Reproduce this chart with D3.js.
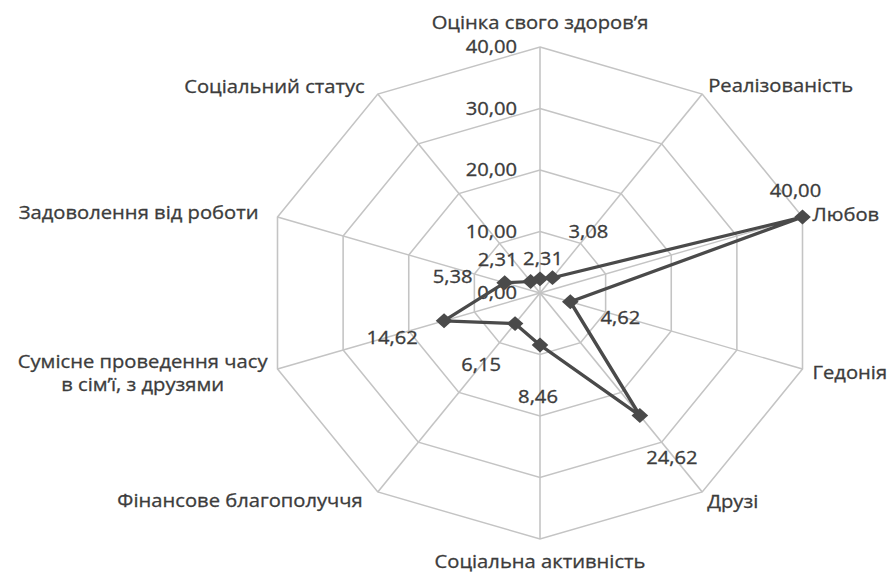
<!DOCTYPE html>
<html>
<head>
<meta charset="utf-8">
<script src="https://cdn.jsdelivr.net/npm/d3@7"></script>
<style>
	body { margin: 0; background: #ffffff; }
	svg { display: block; }
	text { font-family: "Open Sans", sans-serif; fill: #3c3c3c; stroke: #3c3c3c; stroke-width: 0.3px; }
</style>
</head>
<body>
<div id="chart"></div>
<script>
// categories, clockwise from the top
var categories = [
	["Оцінка свого здоров’я"],
	["Реалізованість"],
	["Любов"],
	["Гедонія"],
	["Друзі"],
	["Соціальна активність"],
	["Фінансове благополуччя"],
	["Сумісне проведення часу", "в сім’ї, з друзями"],
	["Задоволення від роботи"],
	["Соціальний статус"]
];

var values = [2.31, 3.08, 40.00, 4.62, 24.62, 8.46, 6.15, 14.62, 5.38, 2.31];

var ticks = [0, 10, 20, 30, 40];

// label placement relative to the marker (screen px)
var valueLabelOffsets = [
	[3, -20], [36, -46], [-7, -26], [50, 16], [32, 42],
	[-2, 52], [-34, 41], [-52, 17], [-52, -6], [-33, -22]
];

// category label placement relative to the outer vertex: [dx, dy, anchor]
var catLabelOffsets = [
	[0, -24, "middle"], [6, -8, "start"], [10, -2, "start"], [10, 4, "start"], [5, 10, "start"],
	[0, 23, "middle"], [-15, 9, "end"], [-10, 4, "end"], [-19, -4, "end"], [-13, -7, "end"]
];

var width = 888, height = 573;
var cx = 540, cy = 293;
var stretch = 1.122; // the chart is wider than tall
var fontSize = "18px";

var svg = d3.select("#chart").append("svg")
	.attr("width", width)
	.attr("height", height);

var g = svg.append("g")
	.attr("transform", "translate(" + cx + "," + cy + ") scale(" + stretch + ",1)");

var r = d3.scaleLinear().domain([0, 40]).range([0, 246]);

var n = categories.length;
function angle(i) { return i * 2 * Math.PI / n; }
function px(i, v) { return r(v) * Math.sin(angle(i)); }
function py(i, v) { return -r(v) * Math.cos(angle(i)); }

// grid rings
ticks.forEach(function(t) {
	if (t === 0) return;
	var pts = d3.range(n).map(function(i) { return [px(i, t), py(i, t)]; });
	g.append("path")
		.attr("d", d3.line().curve(d3.curveLinearClosed)(pts))
		.attr("fill", "none")
		.attr("stroke", "#c4c4c4")
		.attr("stroke-width", 1.4);
});

// spokes
d3.range(n).forEach(function(i) {
	g.append("line")
		.attr("x1", 0).attr("y1", 0)
		.attr("x2", px(i, 40)).attr("y2", py(i, 40))
		.attr("stroke", "#c4c4c4")
		.attr("stroke-width", 1.4);
});

// tick labels
ticks.forEach(function(t) {
	g.append("text")
		.attr("x", -23 / stretch)
		.attr("y", -r(t))
		.attr("dy", "0.35em")
		.attr("text-anchor", "end")
		.style("font-size", fontSize)
		.text(d3.format(".2f")(t).replace(".", ","));
});

// series line
var pts = values.map(function(v, i) { return [px(i, v), py(i, v)]; });
g.append("path")
	.attr("d", d3.line().curve(d3.curveLinearClosed)(pts))
	.attr("fill", "none")
	.attr("stroke", "#4a4a4a")
	.attr("stroke-width", 3.2)
	.attr("stroke-linejoin", "round");

// markers
g.selectAll(".marker").data(values).enter().append("path")
	.attr("class", "marker")
	.attr("d", d3.symbol().type(d3.symbolSquare).size(110))
	.attr("transform", function(v, i) {
		return "translate(" + px(i, v) + "," + py(i, v) + ") rotate(45)";
	})
	.attr("fill", "#4a4a4a");

// value labels
g.selectAll(".vlabel").data(values).enter().append("text")
	.attr("class", "vlabel")
	.attr("x", function(v, i) { return px(i, v) + valueLabelOffsets[i][0] / stretch; })
	.attr("y", function(v, i) { return py(i, v) + valueLabelOffsets[i][1]; })
	.attr("dy", "0.35em")
	.attr("text-anchor", "middle")
	.style("font-size", fontSize)
	.text(function(v) { return d3.format(".2f")(v).replace(".", ","); });

// category labels
categories.forEach(function(lines, i) {
	var o = catLabelOffsets[i];
	var t = g.append("text")
		.attr("x", px(i, 40) + o[0] / stretch)
		.attr("y", py(i, 40) + o[1])
		.attr("text-anchor", o[2])
		.style("font-size", fontSize);
	if (lines.length === 1) {
		t.attr("dy", "0.35em").text(lines[0]);
	} else {
		// two lines, centred on each other, right edge near the vertex
		t.attr("text-anchor", "middle");
		var spans = lines.map(function(s, k) {
			return t.append("tspan").attr("dy", k === 0 ? (0.35 - 0.65) + "em" : "1.3em").text(s);
		});
		var w = spans[0].node().getComputedTextLength();
		spans.forEach(function(s) { s.attr("x", px(i, 40) + o[0] / stretch - w / 2); });
	}
});
</script>
</body>
</html>
